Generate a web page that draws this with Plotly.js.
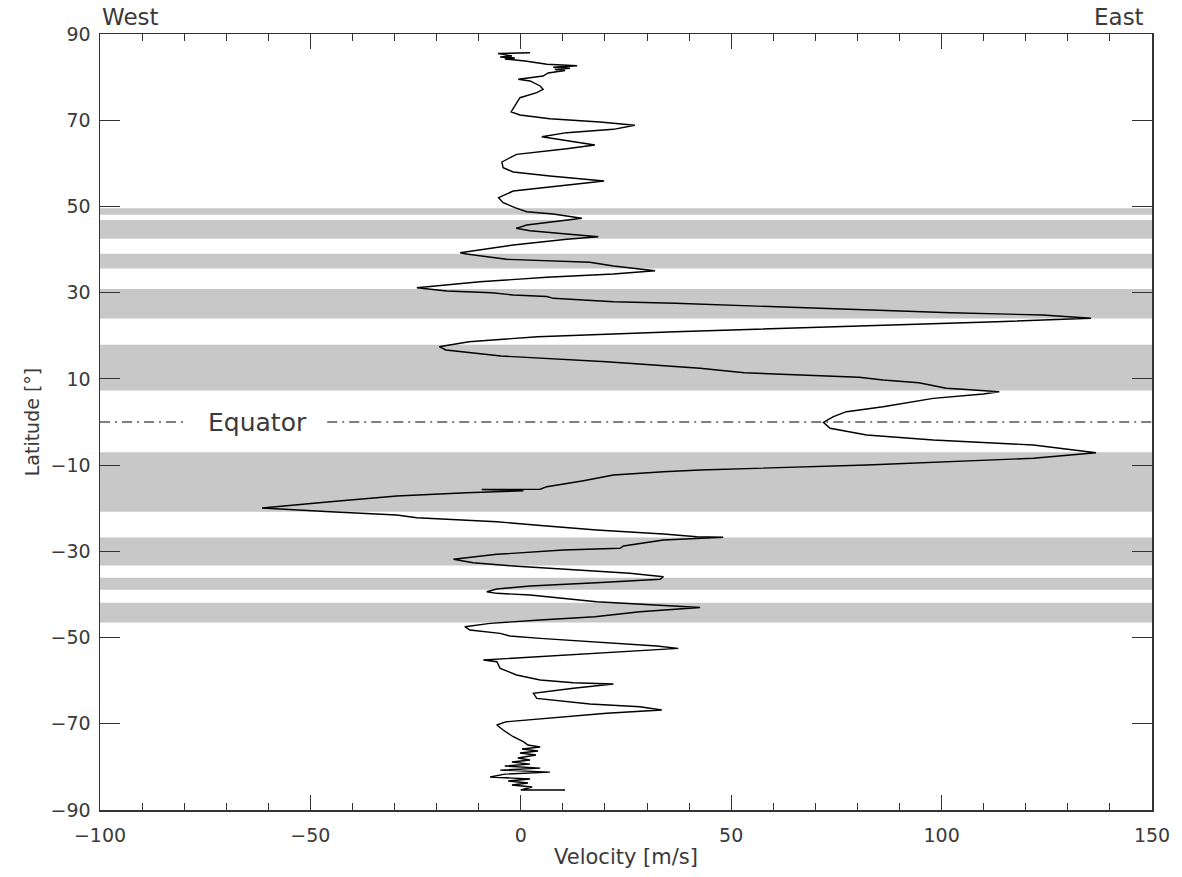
<!DOCTYPE html>
<html>
<head>
<meta charset="utf-8">
<script src="https://cdn.plot.ly/plotly-3.0.1.min.js"></script>
<style>html,body{margin:0;padding:0;background:#fff;}#chart{width:1182px;height:877px;}</style>
</head>
<body>
<div id="chart"></div>
<script>
// Zonal wind profile: latitude (deg) and velocity (m/s), north to south
const latitude = [
  85.66, 85.48, 84.90, 84.66, 84.43, 84.20, 83.74, 82.97, 82.65, 82.28, 82.04, 81.77, 81.53, 80.95, 80.26, 79.91,
  79.49, 79.10, 77.94, 77.17, 76.38, 75.22, 73.30, 71.91, 71.21, 70.35, 69.59, 68.82, 67.89, 67.11, 66.18, 65.57,
  64.25, 63.39, 62.09, 60.31, 58.99, 57.99, 57.06, 55.90, 55.14, 53.58, 52.03, 50.87, 49.71, 48.78, 48.25, 47.25,
  46.46, 45.69, 44.93, 44.37, 43.61, 42.98, 42.38, 41.06, 39.27, 38.97, 37.74, 37.34, 37.04, 36.18, 35.09, 34.33,
  33.56, 32.54, 31.15, 30.39, 29.99, 29.46, 29.11, 28.69, 27.90, 27.53, 26.37, 25.35, 24.82, 24.05, 23.26, 22.27,
  20.94, 19.78, 18.62, 17.46, 16.70, 15.31, 13.97, 12.46, 11.43, 10.37, 9.74, 9.11, 7.82, 7.60, 7.03, 6.49,
  5.49, 3.55, 2.39, 1.23, -0.07, -1.46, -3.02, -4.18, -5.34, -7.12, -8.42, -9.98, -10.50, -11.14, -11.53, -12.30,
  -13.06, -13.62, -15.01, -15.60, -15.65, -15.94, -16.40, -17.17, -18.49, -19.95, -20.81, -21.58, -22.20, -22.73, -23.13, -24.13,
  -25.06, -25.98, -26.61, -26.75, -27.37, -28.77, -29.30, -29.69, -30.69, -31.85, -32.64, -33.41, -34.17, -35.10, -35.89, -36.49,
  -37.28, -38.04, -38.74, -39.37, -39.74, -40.13, -41.69, -42.45, -43.03, -44.01, -45.17, -45.93, -46.70, -47.48, -48.25, -49.02,
  -49.64, -50.18, -51.20, -51.96, -52.50, -53.05, -53.42, -54.44, -55.21, -55.60, -57.14, -58.69, -59.84, -60.48, -60.78, -61.77,
  -62.94, -64.10, -65.42, -66.04, -66.81, -67.57, -68.50, -69.52, -70.28, -71.44, -73.00, -74.16, -74.93, -75.39, -75.86, -76.32,
  -76.79, -77.25, -77.95, -78.41, -78.88, -79.35, -79.81, -80.28, -80.74, -81.21, -81.67, -82.35, -82.81, -83.27, -83.74, -84.20,
  -84.67, -85.37, -85.37
];
const velocity = [
  2.2, -5.4, -2.1, -4.9, -1.4, -3.8, 1.0, 6.2, 13.4, 7.7, 11.7, 8.1, 10.5, 6.5, 5.3, 2.2,
  -0.6, 2.2, 4.6, 5.3, 3.8, -0.2, -1.4, -2.3, -0.2, 6.9, 18.8, 27.1, 22.0, 10.9, 5.0, 9.3,
  17.6, 10.9, -1.0, -4.5, -4.2, -1.8, 6.9, 19.8, 12.5, -1.8, -5.3, -4.2, -1.4, 1.4, 7.7, 14.5,
  7.7, 1.4, -1.1, 2.2, 10.9, 18.4, 10.9, -1.8, -14.4, -12.9, -3.4, 7.7, 16.4, 22.0, 31.9, 22.0,
  6.2, -9.7, -24.7, -17.6, -6.9, -1.8, 6.2, 7.7, 22.0, 36.7, 69.4, 102.2, 124.0, 135.5, 113.1, 80.4,
  36.7, 4.0, -12.3, -19.4, -17.8, -4.7, 20.4, 42.6, 53.1, 80.4, 86.1, 94.6, 101.1, 105.0, 113.7, 109.9,
  98.0, 86.1, 77.4, 74.3, 71.9, 73.5, 82.2, 98.0, 121.8, 136.7, 121.8, 82.2, 61.6, 42.6, 33.9, 22.0,
  18.0, 14.9, 6.2, 4.6, -9.3, 0.6, -12.9, -29.5, -45.3, -61.5, -45.3, -29.5, -24.7, -13.7, -5.7, 6.2,
  18.0, 33.9, 41.8, 48.1, 33.9, 24.4, 23.6, 10.1, -5.7, -16.0, -11.3, -1.8, 10.1, 25.9, 33.9, 33.1,
  18.0, 2.2, -5.7, -8.1, -5.7, 2.2, 18.0, 33.9, 42.6, 28.3, 17.6, 4.6, -7.3, -13.3, -12.1, -4.9,
  -2.6, 4.6, 20.4, 32.3, 37.4, 28.3, 19.6, 4.6, -8.9, -5.7, -4.9, -1.0, 4.6, 12.5, 22.0, 12.5,
  3.0, 3.8, 16.4, 28.3, 33.5, 20.4, 8.5, -3.4, -5.7, -4.2, -1.8, 0.6, 1.7, 4.6, 0.3, 4.1,
  -0.2, 3.6, -0.7, 2.2, -2.1, 2.2, -3.8, 4.6, -4.9, 6.9, -3.8, -7.3, 2.2, -3.0, 1.7, -2.1,
  2.7, 0.0, 10.5
];
// Shaded latitude bands (deg)
const bandSouth = [48.1, 42.5, 35.6, 24.0, 7.3, -20.8, -33.3, -38.9, -46.5];
const bandNorth = [49.6, 46.85, 39.0, 30.85, 17.9, -7.0, -26.8, -36.1, -41.9];
// Equator reference line segments (velocity ends), gap for the label
const equatorX = [-100, -79.8, null, -46.0, 150];
const equatorY = [0, 0, null, 0, 0];
const equatorLabelX = -62.6;
const xTicks = [-100, -50, 0, 50, 100, 150];
const yTicks = [-90, -70, -50, -30, -10, 10, 30, 50, 70, 90];

const FONT = 'DejaVu Sans, sans-serif';
const TXT = '#3a3a3a';

const shapes = bandSouth.map((s, i) => ({
  type: 'rect', xref: 'paper', yref: 'y', x0: 0, x1: 1, y0: s, y1: bandNorth[i],
  fillcolor: '#c8c8c8', line: {width: 0}, layer: 'below'
}));

const traces = [
  {x: equatorX, y: equatorY, mode: 'lines', connectgaps: false, hoverinfo: 'skip',
   line: {color: '#000', width: 1.2, dash: '10px,5px,2px,5px'}, showlegend: false},
  {x: velocity, y: latitude, mode: 'lines', line: {color: '#000', width: 1.4},
   showlegend: false}
];

const layout = {
  width: 1182, height: 877,
  margin: {l: 100, r: 30, t: 34, b: 67},
  paper_bgcolor: '#fff', plot_bgcolor: '#fff',
  font: {family: FONT, color: TXT, size: 19},
  showlegend: false,
  shapes: shapes,
  xaxis: {
    range: [-100, 150], tickvals: xTicks, ticks: 'inside', ticklen: 15, tickwidth: 1,
    tickcolor: '#333', showline: true, linecolor: '#333', linewidth: 1.5, mirror: 'ticks',
    showgrid: false, zeroline: false, tickfont: {family: FONT, size: 19, color: TXT},
    ticklabelstandoff: 8,
    minor: {dtick: 10, ticks: 'inside', ticklen: 7, tickcolor: '#333', tickwidth: 1, showgrid: false},
    title: {text: 'Velocity [m/s]', font: {family: FONT, size: 21, color: TXT}, standoff: 4}
  },
  yaxis: {
    range: [-90, 90], tickvals: yTicks, ticks: 'inside', ticklen: 20, tickwidth: 1,
    tickcolor: '#333', showline: true, linecolor: '#333', linewidth: 1.5, mirror: 'ticks',
    showgrid: false, zeroline: false, tickfont: {family: FONT, size: 19, color: TXT},
    ticklabelstandoff: 4,
    title: {text: 'Latitude [°]', font: {family: FONT, size: 19, color: TXT}, standoff: 6}
  },
  annotations: [
    {text: 'West', xref: 'paper', yref: 'paper', x: 0, y: 1, xanchor: 'left', yanchor: 'bottom',
     yshift: 2, showarrow: false, font: {family: FONT, size: 23, color: TXT}},
    {text: 'East', xref: 'paper', yref: 'paper', x: 1, y: 1, xanchor: 'right', yanchor: 'bottom',
     xshift: -6, yshift: 2, showarrow: false, font: {family: FONT, size: 23, color: TXT}},
    {text: 'Equator', xref: 'x', yref: 'y', x: equatorLabelX, y: 0, xanchor: 'center', yanchor: 'middle',
     showarrow: false, font: {family: FONT, size: 25, color: TXT}}
  ]
};

Plotly.newPlot('chart', traces, layout, {displayModeBar: false, staticPlot: true});
</script>
</body>
</html>
